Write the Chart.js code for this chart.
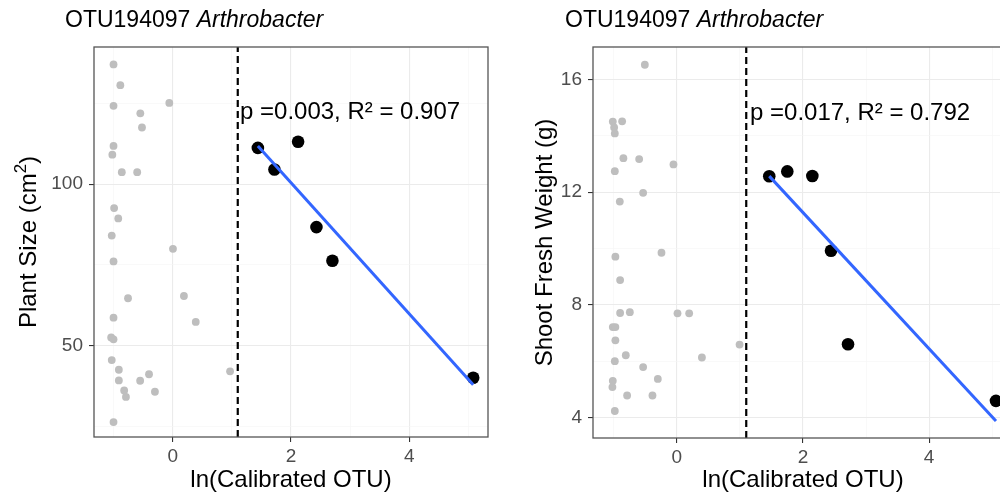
<!DOCTYPE html>
<html><head><meta charset="utf-8">
<script src="https://cdn.jsdelivr.net/npm/chart.js@4.4.1/dist/chart.umd.min.js"></script>
<style>
html,body{margin:0;padding:0;background:#fff;overflow:hidden;width:1000px;height:495px;position:relative;}
#c1{position:absolute;left:0;top:0;}
#c2{position:absolute;left:500px;top:0;}
</style></head><body>
<canvas id="c1" width="500" height="495"></canvas>
<canvas id="c2" width="525" height="495"></canvas>
<script>
// ---- text ----
const titleMain = 'OTU194097 ';
const titleItalic = 'Arthrobacter';
const xTitle = 'ln(Calibrated OTU)';
const yTitle1 = ['Plant Size (cm', '2', ')'];
const yTitle2 = ['Shoot Fresh Weight (g)', '', ''];
const stat1 = 'p =0.003, R² = 0.907';
const stat2 = 'p =0.017, R² = 0.792';

// ---- ticks ----
const xMajor = [0, 2, 4];
const xMinor = [-1, 1, 3, 5];
const y1Major = [50, 100];
const y1Minor = [25, 75, 125];
const y2Major = [4, 8, 12, 16];
const y2Minor = [6, 10, 14];

// ---- cutoff (dashed line) ----
const cutoff = 1.1;

// ---- panel 1: Plant Size ----
const grey1X = [-1.00,-0.885,-1.00,-0.057,-0.547,-0.519,-1.00,-1.02,-0.86,-0.60,-0.99,-0.92,-1.03,0.005,-1.00,-0.755,0.19,0.39,-1.00,-1.04,-1.00,-1.03,-0.91,-0.91,-0.55,-0.40,-0.82,-0.79,-0.30,0.97,-1.00];
const grey1Y = [137.0,130.6,124.2,125.1,121.9,117.5,111.8,109.1,103.7,103.7,92.6,89.4,84.1,80.0,76.1,64.7,65.4,57.4,58.7,52.6,52.0,45.6,42.6,39.3,39.2,41.2,36.2,34.2,35.8,42.1,26.4];
const black1X = [1.44, 1.72, 2.12, 2.43, 2.70, 5.08];
const black1Y = [111.2, 104.5, 113.1, 86.7, 76.3, 40.1];

// ---- panel 2: Shoot Fresh Weight ----
const grey2X = [-0.508,-1.016,-0.868,-0.995,-0.984,-0.848,-0.598,-0.984,-0.054,-0.535,-0.905,-0.975,-0.244,-0.90,-0.90,-0.746,0.01,0.195,-1.016,-0.975,-0.975,0.994,-0.81,0.397,-0.984,-0.535,-0.302,-1.016,-1.022,-0.789,-0.387,-0.984];
const grey2Y = [16.53,14.51,14.52,14.30,14.09,13.21,13.18,12.75,12.99,11.98,11.67,9.71,9.85,8.88,7.71,7.74,7.70,7.70,7.21,7.21,6.74,6.59,6.21,6.13,6.00,5.79,5.37,5.30,5.08,4.78,4.78,4.23];
const black2X = [1.465, 1.751, 2.148, 2.444, 2.714, 5.06];
const black2Y = [12.57, 12.74, 12.58, 9.92, 6.60, 4.59];

const FONT = "'Liberation Sans', Arial, Helvetica, sans-serif";

function pts(xs, ys){ return xs.map((x,i)=>({x:x, y:ys[i]})); }
function fitLine(xs, ys){
  const n = xs.length;
  const mx = xs.reduce((a,b)=>a+b,0)/n, my = ys.reduce((a,b)=>a+b,0)/n;
  let sxy=0, sxx=0;
  for(let i=0;i<n;i++){ sxy += (xs[i]-mx)*(ys[i]-my); sxx += (xs[i]-mx)*(xs[i]-mx); }
  const b = sxy/sxx, a = my - b*mx;
  const x0 = Math.min(...xs), x1 = Math.max(...xs);
  return [{x:x0, y:a+b*x0}, {x:x1, y:a+b*x1}];
}

function makeChart(id, cfg){
  const allX = [...cfg.xMinor, ...cfg.xMajor].sort((a,b)=>a-b);
  const allY = [...cfg.yMinor, ...cfg.yMajor].sort((a,b)=>a-b);
  const isMajX = v => cfg.xMajor.includes(v);
  const isMajY = v => cfg.yMajor.includes(v);

  const textPlugin = {
    id: 'txt'+id,
    afterDraw(chart){
      const ctx = chart.ctx, a = chart.chartArea;
      ctx.save();
      // panel border
      ctx.strokeStyle = '#555'; ctx.lineWidth = 1.3;
      ctx.strokeRect(a.left, a.top, a.right-a.left, a.bottom-a.top);
      // title
      ctx.fillStyle = '#000'; ctx.textBaseline = 'middle'; ctx.textAlign = 'left';
      ctx.font = '23px ' + FONT;
      ctx.fillText(titleMain, cfg.titleX, 21);
      const w = ctx.measureText(titleMain).width;
      ctx.font = 'italic 23px ' + FONT;
      ctx.fillText(titleItalic, cfg.titleX + w, 21);
      // stats annotation
      ctx.font = '24px ' + FONT;
      ctx.fillText(cfg.stat, cfg.statX, cfg.statY);
      // x title
      ctx.textAlign = 'center';
      ctx.fillText(xTitle, (a.left+a.right)/2, 480);
      // y title (rotated, with optional superscript)
      ctx.translate(cfg.yTitleX, (a.top+a.bottom)/2);
      ctx.rotate(-Math.PI/2);
      ctx.textAlign = 'left'; ctx.textBaseline = 'alphabetic';
      ctx.font = '24px ' + FONT;
      const w1 = ctx.measureText(cfg.yTitle[0]).width;
      const w3 = ctx.measureText(cfg.yTitle[2]).width;
      ctx.font = '17px ' + FONT;
      const w2 = ctx.measureText(cfg.yTitle[1]).width;
      let sx = -(w1+w2+w3)/2;
      ctx.font = '24px ' + FONT;
      ctx.fillText(cfg.yTitle[0], sx, 8.5);
      ctx.font = '17px ' + FONT;
      ctx.fillText(cfg.yTitle[1], sx+w1, -1);
      ctx.font = '24px ' + FONT;
      ctx.fillText(cfg.yTitle[2], sx+w1+w2, 8.5);
      ctx.restore();
    }
  };

  return new Chart(document.getElementById(id), {
    type: 'scatter',
    data: {
      datasets: [
        { data: fitLine(cfg.bx, cfg.by), showLine: true, borderColor: '#3366FF', borderWidth: 3, pointRadius: 0, fill: false },
        { data: pts(cfg.bx, cfg.by), backgroundColor: '#000', borderWidth: 0, pointRadius: 6.3 },
        { data: [{x:cutoff, y:cfg.yMin}, {x:cutoff, y:cfg.yMax}], showLine: true, borderColor: '#000', borderWidth: 2.2, borderDash: [7,4], pointRadius: 0, fill: false },
        { data: pts(cfg.gx, cfg.gy), backgroundColor: '#bebebe', borderWidth: 0, pointRadius: 3.9 }
      ]
    },
    options: {
      responsive: false, animation: false, devicePixelRatio: 1,
      layout: { padding: { left: 0, top: 47, right: cfg.padRight, bottom: 0 } },
      plugins: { legend: { display: false }, tooltip: { enabled: false } },
      scales: {
        x: {
          type: 'linear', min: cfg.xMin, max: cfg.xMax,
          afterBuildTicks: s => { s.ticks = allX.map(v=>({value:v})); },
          afterFit: s => { s.height = cfg.xAxisH; },
          ticks: { callback: v => isMajX(v) ? String(v) : '', font: { family: FONT, size: 19 }, color: '#4d4d4d', padding: 3, maxRotation: 0, autoSkip: false },
          grid: {
            color: c => isMajX(c.tick.value) ? '#ebebeb' : '#f5f5f5',
            lineWidth: c => isMajX(c.tick.value) ? 1.1 : 0.6,
            tickColor: c => isMajX(c.tick.value) ? '#333' : 'rgba(0,0,0,0)',
            tickLength: 5, drawTicks: true
          },
          border: { display: false }
        },
        y: {
          type: 'linear', min: cfg.yMin, max: cfg.yMax,
          afterBuildTicks: s => { s.ticks = allY.map(v=>({value:v})); },
          afterFit: s => { s.width = cfg.yAxisW; },
          ticks: { callback: v => isMajY(v) ? String(v) : '', font: { family: FONT, size: 19 }, color: '#4d4d4d', padding: 6, autoSkip: false },
          grid: {
            color: c => isMajY(c.tick.value) ? '#ebebeb' : '#f5f5f5',
            lineWidth: c => isMajY(c.tick.value) ? 1.1 : 0.6,
            tickColor: c => isMajY(c.tick.value) ? '#333' : 'rgba(0,0,0,0)',
            tickLength: 5, drawTicks: true
          },
          border: { display: false }
        }
      }
    },
    plugins: [textPlugin]
  });
}

makeChart('c1', {
  gx: grey1X, gy: grey1Y, bx: black1X, by: black1Y,
  xMajor, xMinor, yMajor: y1Major, yMinor: y1Minor,
  xMin: -1.33, xMax: 5.33, yMin: 21.8, yMax: 142.4,
  padRight: 12, yAxisW: 94, xAxisH: 58,
  titleX: 65, stat: stat1, statX: 240, statY: 112,
  yTitle: yTitle1, yTitleX: 27
});
makeChart('c2', {
  gx: grey2X, gy: grey2Y, bx: black2X, by: black2Y,
  xMajor, xMinor, yMajor: y2Major, yMinor: y2Minor,
  xMin: -1.33, xMax: 5.33, yMin: 3.27, yMax: 17.16,
  padRight: 12, yAxisW: 93, xAxisH: 57,
  titleX: 65, stat: stat2, statX: 250, statY: 113,
  yTitle: yTitle2, yTitleX: 43
});
</script>
</body></html>
